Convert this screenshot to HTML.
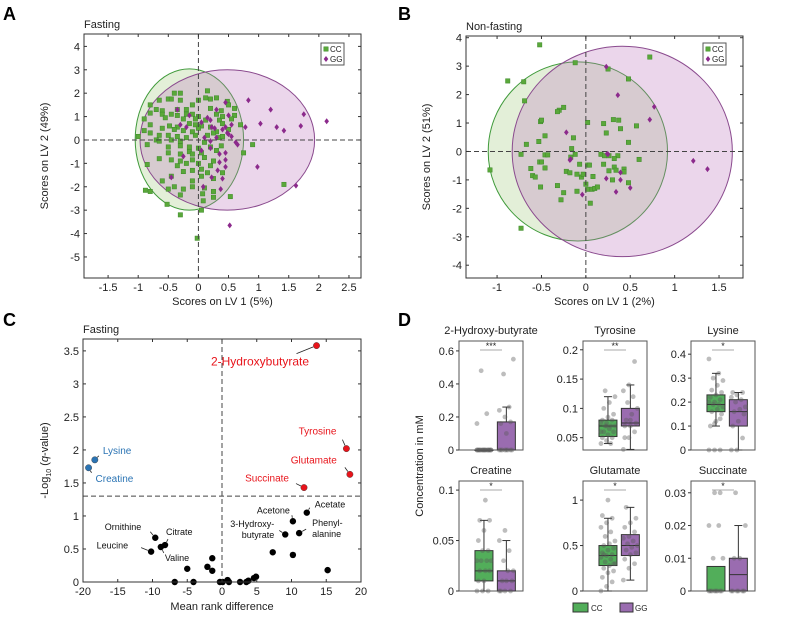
<!DOCTYPE html>
<html><head><meta charset="utf-8">
<style>
html,body{margin:0;padding:0;background:#fff;width:787px;height:622px;overflow:hidden}
svg{display:block;font-family:"Liberation Sans",Arial,sans-serif}
</style></head>
<body>
<svg id="fig" width="787" height="622" viewBox="0 0 787 622"></svg>
<script>
// ---------- DATA ----------
const aCCx=[-0.4,-0.3,0.15,-0.5,-0.45,-0.3,-0.65,0.0,0.12,0.2,0.3,0.48,-0.8,-0.1,0.5,-0.7,-0.6,-0.35,-0.2,0.2,0.38,0.6,-0.8,-0.6,-0.45,-0.35,-0.2,-0.1,0.0,0.3,0.6,-0.9,-0.55,-0.25,-0.05,0.12,0.35,0.55,-0.8,-0.48,-0.35,-0.15,-0.05,0.05,0.2,0.4,0.7,-0.9,-0.6,-0.4,-0.25,-0.1,0.0,0.3,0.5,-1.0,-0.8,-0.65,-0.5,-0.35,-0.2,-0.05,0.15,0.35,-0.7,-0.65,-0.45,-0.3,0.1,0.4,-0.85,-0.5,-0.3,-0.15,0.0,0.2,0.38,-0.5,-0.3,-0.15,0.05,0.3,0.75,0.9,-0.45,-0.3,-0.1,0.1,0.25,-0.65,-0.85,-0.35,-0.2,0.0,0.2,-0.25,-0.1,0.05,0.15,0.4,-0.6,-0.45,-0.1,0.05,0.25,-0.4,-0.25,-0.1,0.1,0.25,-0.88,-0.8,-0.5,-0.3,0.07,0.25,0.08,-0.52,0.05,0.53,-0.3,-0.02,1.42,0.4,0.25,-0.1];
const aCCy=[2.0,2.0,2.1,1.75,1.75,1.7,1.7,1.7,1.8,1.75,1.8,1.65,1.5,1.5,1.5,1.3,1.25,1.3,1.3,1.35,1.25,1.35,1.15,1.1,1.1,1.05,1.1,1.1,1.0,1.1,1.05,0.9,0.95,0.9,0.9,0.85,0.85,0.9,0.65,0.6,0.55,0.7,0.65,0.6,0.55,0.7,0.65,0.4,0.5,0.45,0.4,0.35,0.5,0.35,0.45,0.15,0.3,0.2,0.2,0.15,0.1,0.2,0.2,0.1,0.0,-0.05,0.0,-0.05,-0.1,0.15,-0.2,-0.3,-0.25,-0.3,-0.35,-0.3,-0.25,-0.55,-0.6,-0.5,-0.55,-0.45,-0.55,-0.2,-0.85,-0.9,-0.85,-0.75,-0.9,-0.8,-1.05,-1.1,-1.0,-1.0,-1.1,-1.35,-1.3,-1.25,-1.4,-1.4,-1.75,-1.55,-1.75,-1.55,-1.65,-2.0,-2.1,-2.0,-2.05,-2.2,-2.15,-2.2,-2.1,-2.35,-2.3,-2.45,-2.6,-2.75,-3.0,-2.42,-3.2,-4.2,-1.9,1.0,0.3,-0.6];
const aGGx=[-0.35,-0.15,-0.2,-0.3,0.05,0.15,0.2,0.3,0.45,0.5,0.55,0.45,0.4,0.22,0.27,0.48,0.5,0.55,0.1,0.2,0.3,0.62,0.65,0.2,0.45,0.35,0.05,0.35,0.45,-0.25,-0.45,0.32,0.45,0.22,0.4,0.08,0.37,0.83,1.2,1.03,0.78,1.3,1.42,1.75,1.7,2.13,0.98,1.62,0.52];
const aGGy=[1.3,1.05,0.55,0.65,0.75,0.95,0.85,1.3,1.6,1.05,0.65,0.55,0.45,0.55,0.5,0.3,0.25,0.15,0.1,-0.05,0.1,-0.1,-0.2,-0.35,-0.55,-0.6,-0.45,-0.95,-0.85,-0.7,-1.6,-1.3,-1.15,-1.6,-1.65,-2.0,-2.1,1.7,1.3,0.7,0.55,0.55,0.4,1.1,0.6,0.8,-1.15,-1.95,-3.65];
const bCCx=[-0.52,-0.12,0.25,0.72,-0.88,-0.7,0.48,-0.69,-0.25,-0.3,-0.32,-0.51,-0.5,0.02,0.2,0.31,0.37,0.57,0.39,0.23,-0.46,-0.14,-0.67,-0.53,0.48,-0.16,-0.73,-0.46,-0.43,-0.12,-0.17,0.17,0.21,0.26,0.36,0.32,-0.52,-0.5,-0.46,-0.62,-0.6,-0.57,-0.22,-0.18,-0.07,0.02,0.04,0.2,0.32,0.34,0.26,0.6,0.43,0.43,-0.1,-0.05,-0.03,0.08,0.3,0.48,-0.51,-0.32,0.0,0.02,0.07,0.1,0.13,-0.1,-0.25,-0.28,0.05,-1.08,-0.73];
const bCCy=[3.75,3.12,2.9,3.32,2.48,2.45,2.55,1.78,1.55,1.45,1.4,1.05,1.1,1.02,0.98,1.12,1.1,0.9,0.8,0.65,0.55,0.48,0.25,0.35,0.32,0.1,-0.1,-0.12,-0.12,-0.1,-0.2,-0.1,-0.15,-0.15,-0.15,-0.25,-0.37,-0.37,-0.58,-0.6,-0.85,-0.9,-0.7,-0.75,-0.45,-0.48,-0.48,-0.45,-0.55,-0.66,-0.68,-0.28,-0.62,-0.72,-0.8,-0.9,-0.8,-0.88,-1.0,-1.1,-1.25,-1.2,-1.15,-1.33,-1.33,-1.3,-1.25,-1.4,-1.45,-1.7,-1.82,-0.65,-2.7];
const bGGx=[0.23,0.36,0.77,0.72,-0.22,-0.17,-0.18,0.24,0.25,0.39,0.23,0.39,0.5,0.34,-0.04,1.21,1.37];
const bGGy=[2.98,1.98,1.57,1.12,0.67,-0.27,-0.3,-0.08,-0.1,-0.74,-0.95,-1.0,-1.28,-1.42,-1.52,-0.33,-0.62];
// ellipses [cx,cy,rx,ry]
const aEllCC=[-0.15,0.02,0.9,3.02], aEllGG=[0.48,0.0,1.45,3.0];
const bEllCC=[-0.09,0.0,1.01,3.15], bEllGG=[0.41,0.0,1.24,3.7];
// volcano
const cNames=["2-Hydroxybutyrate","Tyrosine","Glutamate","Succinate","Lysine","Creatine","Acetate","Acetone","Phenylalanine","3-Hydroxybutyrate","Ornithine","Citrate","Valine","Leucine","m15","m16","m17","m18","m19","m20","m21","m22","m23","m24","m25","m26","m27","m28","m29","m30","m31","m32"];
const cX=[13.6,17.9,18.4,11.8,-18.3,-19.2,12.2,10.2,11.1,9.1,-9.6,-8.2,-8.8,-10.2,7.3,10.2,15.2,-1.4,-2.1,-1.4,-5.0,-6.8,-4.1,-0.3,0.1,0.8,1.0,2.6,3.5,3.8,4.6,4.9];
const cY=[3.58,2.02,1.63,1.43,1.85,1.73,1.05,0.92,0.74,0.72,0.67,0.56,0.53,0.46,0.45,0.41,0.18,0.36,0.23,0.17,0.2,0,0,0,0,0.03,0,0,0,0.02,0.06,0.08];
const cGroup=["up","up","up","up","down","down","ns","ns","ns","ns","ns","ns","ns","ns","ns","ns","ns","ns","ns","ns","ns","ns","ns","ns","ns","ns","ns","ns","ns","ns","ns","ns"];
// box plots
const dTitles=["2-Hydroxy-butyrate","Tyrosine","Lysine","Creatine","Glutamate","Succinate"];
const dStars=["***","**","*","*","*","*"];
const dYmax=[0.66,0.215,0.455,0.109,1.21,0.0336];
const dYmin=[0,0.029,0,0,0,0];
const dTicks=[[0,0.2,0.4,0.6],[0.05,0.1,0.15,0.2],[0,0.1,0.2,0.3,0.4],[0,0.05,0.1],[0,0.5,1],[0,0.01,0.02,0.03]];
const dTickLbl=[["0","0.2","0.4","0.6"],["0.05","0.1","0.15","0.2"],["0","0.1","0.2","0.3","0.4"],["0","0.05","0.1"],["0","0.5","1"],["0","0.01","0.02","0.03"]];
const dStatsCC=[[0,0,0,0,0],[0.04,0.052,0.07,0.08,0.12],[0.10,0.16,0.19,0.23,0.32],[0,0.01,0.02,0.04,0.07],[0,0.28,0.39,0.50,0.80],[0,0,0,0.0075,0]];
const dStatsGG=[[0,0,0,0.17,0.26],[0.03,0.07,0.075,0.10,0.14],[0,0.10,0.16,0.21,0.24],[0,0,0.01,0.02,0.05],[0.12,0.39,0.50,0.62,0.92],[0,0,0.005,0.01,0.02]];
const dPtsCC=[[0,0,0,0,0,0,0,0,0,0,0,0,0,0,0,0,0,0,0,0,0.48,0.22,0.16],
[0.04,0.045,0.05,0.05,0.055,0.06,0.06,0.065,0.07,0.07,0.07,0.075,0.075,0.08,0.08,0.085,0.09,0.1,0.11,0.12,0.13,0.04,0.06,0.07],
[0,0,0,0.1,0.12,0.15,0.16,0.17,0.18,0.19,0.19,0.2,0.2,0.21,0.22,0.23,0.24,0.25,0.27,0.29,0.3,0.32,0.38,0.11,0.13],
[0,0,0,0.01,0.01,0.02,0.02,0.02,0.03,0.03,0.03,0.03,0.04,0.04,0.05,0.06,0.07,0.07,0.09],
[0,0.05,0.1,0.15,0.2,0.22,0.25,0.28,0.3,0.32,0.35,0.37,0.39,0.4,0.42,0.45,0.47,0.5,0.52,0.55,0.6,0.65,0.7,0.75,0.8,0.83,1.0,0.3,0.4],
[0,0,0,0,0,0,0,0,0.01,0.01,0.02,0.02,0.03,0.03]];
const dPtsGG=[[0,0,0,0,0,0,0,0,0.55,0.46,0.26,0.24,0.2,0.17,0.16,0.1],
[0.03,0.05,0.06,0.07,0.07,0.075,0.08,0.09,0.1,0.11,0.12,0.13,0.14,0.18,0.05,0.08],
[0,0,0.05,0.1,0.12,0.15,0.16,0.17,0.18,0.2,0.21,0.22,0.23,0.24,0.24],
[0,0,0,0,0.01,0.01,0.01,0.02,0.02,0.03,0.04,0.05,0.06],
[0.12,0.25,0.3,0.35,0.4,0.42,0.45,0.48,0.5,0.52,0.55,0.58,0.6,0.65,0.7,0.75,0.8,0.92],
[0,0,0,0,0,0,0.01,0.01,0.02,0.03]];

// ---------- HELPERS ----------
const NS="http://www.w3.org/2000/svg";
const svg=document.getElementById('fig');
function el(tag,attrs,parent,txt){const e=document.createElementNS(NS,tag);for(const k in attrs)e.setAttribute(k,attrs[k]);if(txt!==undefined)e.textContent=txt;(parent||svg).appendChild(e);return e;}
function grp(name){const g=el('g',{});


return g;}
function txt(g,x,y,s,name,opts){const t=el('text',Object.assign({x:x,y:y,'font-size':11,fill:'#222'},opts||{}),g,s);


return t;}
function lin(d0,d1,r0,r1){return v=>r0+(v-d0)/(d1-d0)*(r1-r0);}
function frame(g,L,T,W,H,xt,yt,sx,sy,xl,yl,name){
  const r=el('rect',{x:L,y:T,width:W,height:H,fill:'none',stroke:'#333','stroke-width':1},g);
  
  
  xt.forEach((v,i)=>{const x=sx(v);el('line',{x1:x,x2:x,y1:T+H,y2:T+H-3,stroke:'#333'},g);el('line',{x1:x,x2:x,y1:T,y2:T+3,stroke:'#333'},g);
    txt(g,x,T+H+13,xl[i],name+'-x-tick',{'text-anchor':'middle'});});
  yt.forEach((v,i)=>{const y=sy(v);el('line',{x1:L,x2:L+3,y1:y,y2:y,stroke:'#333'},g);el('line',{x1:L+W,x2:L+W-3,y1:y,y2:y,stroke:'#333'},g);
    txt(g,L-4,y+4,yl[i],name+'-y-tick',{'text-anchor':'end'});});
}
function sq(g,x,y,name){const r=el('rect',{x:x-2.2,y:y-2.2,width:4.4,height:4.4,fill:'#5aa83a',stroke:'#3d8a2a','stroke-width':0.5},g);

}
function dia(g,x,y,name){const p=el('path',{d:`M${x} ${y-3}L${x+2.3} ${y}L${x} ${y+3}L${x-2.3} ${y}Z`,fill:'#8c2a8c'},g);

}

// ---------- PANEL LETTERS ----------
[["A",3,20],["B",398,20],["C",3,326],["D",398,326]].forEach(a=>{txt(svg,a[1],a[2],a[0],'panel-label-'+a[0].toLowerCase(),{'font-size':18,'font-weight':'bold',fill:'#000'});});

// ---------- SCORES PLOTS ----------
function scores(name,L,T,W,H,xd,yd,xt,xl,yt,title,ylab,xlab,ellCC,ellGG,ccx,ccy,ggx,ggy,legX,legY){
  const g=grp(name);
  const sx=lin(xd[0],xd[1],L,L+W), sy=lin(yd[0],yd[1],T+H,T);
  const cp=el('clipPath',{id:name+'-clip'},g);el('rect',{x:L,y:T,width:W,height:H},cp);
  const eg=el('g',{'clip-path':`url(#${name}-clip)`},g);
  const kx=W/(xd[1]-xd[0]), ky=H/(yd[1]-yd[0]);
  const e1=el('ellipse',{cx:sx(ellCC[0]),cy:sy(ellCC[1]),rx:ellCC[2]*kx,ry:ellCC[3]*ky,fill:'rgba(150,195,110,0.27)',stroke:'#3f9a3a','stroke-width':1},eg);
  
  
  const e2=el('ellipse',{cx:sx(ellGG[0]),cy:sy(ellGG[1]),rx:ellGG[2]*kx,ry:ellGG[3]*ky,fill:'rgba(190,120,190,0.3)',stroke:'#8a4a8e','stroke-width':1},eg);
  
  
  el('line',{x1:L,x2:L+W,y1:sy(0),y2:sy(0),stroke:'#444','stroke-dasharray':'5,3'},g);
  el('line',{x1:sx(0),x2:sx(0),y1:T,y2:T+H,stroke:'#444','stroke-dasharray':'5,3'},g);
  ccx.forEach((v,i)=>sq(eg,sx(v),sy(ccy[i]),'cc-point'));
  ggx.forEach((v,i)=>dia(eg,sx(v),sy(ggy[i]),'gg-point'));
  frame(g,L,T,W,H,xt,yt,sx,sy,xl,yt.map(String),name);
  txt(g,L,T-6,title,name+'-title');
  txt(g,L+W/2,T+H+27,xlab,name+'-x-title',{'text-anchor':'middle'});
  txt(g,0,0,ylab,name+'-y-title',{'text-anchor':'middle',transform:`translate(${L-36},${T+H/2}) rotate(-90)`});
  const lg=grp(name+'-legend');g.appendChild(lg);
  el('rect',{x:legX,y:legY,width:23,height:22,fill:'#fff',stroke:'#555','stroke-width':1},lg);
  sq(lg,legX+5,legY+6,'legend-cc-marker');dia(lg,legX+5,legY+16,'legend-gg-marker');
  txt(lg,legX+9,legY+9,'CC','legend-cc-label',{'font-size':8});
  txt(lg,legX+9,legY+19,'GG','legend-gg-label',{'font-size':8});
}
scores('scores-fasting',84,34,277,244,[-1.9,2.7],[-5.9,4.53],[-1.5,-1,-0.5,0,0.5,1,1.5,2,2.5],["-1.5","-1","-0.5","0","0.5","1","1.5","2","2.5"],[-5,-4,-3,-2,-1,0,1,2,3,4],'Fasting','Scores on LV 2 (49%)','Scores on LV 1 (5%)',aEllCC,aEllGG,aCCx,aCCy,aGGx,aGGy,321,43);
scores('scores-nonfasting',466,36,277,242,[-1.35,1.77],[-4.45,4.06],[-1,-0.5,0,0.5,1,1.5],["-1","-0.5","0","0.5","1","1.5"],[-4,-3,-2,-1,0,1,2,3,4],'Non-fasting','Scores on LV 2 (51%)','Scores on LV 1 (2%)',bEllCC,bEllGG,bCCx,bCCy,bGGx,bGGy,703,43);

// ---------- VOLCANO ----------
(function(){
  const g=grp('volcano-plot');
  const L=83,T=339,W=278,H=243;
  const sx=lin(-20,20,L,L+W), sy=lin(0,3.68,T+H,T);
  el('line',{x1:L,x2:L+W,y1:sy(1.3),y2:sy(1.3),stroke:'#444','stroke-dasharray':'5,3'},g);
  el('line',{x1:sx(0),x2:sx(0),y1:T,y2:T+H,stroke:'#444','stroke-dasharray':'5,3'},g);
  const col={up:'#e8141b',down:'#2b74b4',ns:'#000'};
  cX.forEach((v,i)=>{const c=el('circle',{cx:sx(v),cy:sy(cY[i]),r:3.2,fill:col[cGroup[i]],stroke:cGroup[i]=='ns'?'none':'#333','stroke-width':0.4},g);
    
    });
  // [index, text dx, baseline dy, anchor, size, color, line end dx, line end dy]
  const labs=[[0,-7.5,20,'end',12,'#e8141b',-20,8],[1,-10,-14,'end',10,'#e8141b',-4,-9],[2,-13,-11,'end',10,'#e8141b',-5,-7],[3,-15,-6,'end',10,'#e8141b',-8,-4],
    [4,8,-6,'start',10,'#2b74b4',4,-4],[5,7,14,'start',10,'#2b74b4',3,5],
    [6,8,-5,'start',9,'#111',3,-5],[7,-3,-8,'end',9,'#111',-1,-6],[8,13,-7,'start',9,'#111',7,-4],[9,-11,-7.5,'end',9,'#111',-6,-4],
    [10,-14,-8,'end',9,'#111',-5,-6],[11,1,-10,'start',9,'#111',3,-6],[12,4,14,'start',9,'#111',3,6],[13,-23,-3,'end',9,'#111',-10,-4]];
  const lnames=["2-Hydroxybutyrate","Tyrosine","Glutamate","Succinate","Lysine","Creatine","Acetate","Acetone","Phenyl-","3-Hydroxy-","Ornithine","Citrate","Valine","Leucine"];
  labs.forEach(l=>{const i=l[0];const x=sx(cX[i]),y=sy(cY[i]);
    const tx=x+l[1], ty=y+l[2];
    const len=Math.hypot(l[6],l[7])||1;
    el('line',{x1:x+l[6]/len*3.5,y1:y+l[7]/len*3.5,x2:x+l[6],y2:y+l[7],stroke:'#222','stroke-width':0.8},g);
    txt(g,tx,ty,lnames[i],'label-'+cNames[i].toLowerCase(),{'font-size':l[4],fill:l[5],'text-anchor':l[3]});
    if(i==8)txt(g,tx,ty+11,'alanine','label-phenylalanine-2',{'font-size':9,fill:'#111'});
    if(i==9)txt(g,tx,ty+11,'butyrate','label-3-hydroxybutyrate-2',{'font-size':9,fill:'#111','text-anchor':'end'});
  });
  frame(g,L,T,W,H,[-20,-15,-10,-5,0,5,10,15,20],[0,0.5,1,1.5,2,2.5,3,3.5],sx,sy,["-20","-15","-10","-5","0","5","10","15","20"],["0","0.5","1","1.5","2","2.5","3","3.5"],'volcano');
  txt(g,L,T-6,'Fasting','volcano-title');
  txt(g,L+W/2,T+H+28,'Mean rank difference','volcano-x-title',{'text-anchor':'middle'});
  const yt=el('text',{transform:`translate(${L-35},${T+H/2}) rotate(-90)`,'text-anchor':'middle','font-size':11,fill:'#222'},g);
  
  
  el('tspan',{},yt,'-Log');el('tspan',{'font-size':7,dy:3},yt,'10');el('tspan',{dy:-3},yt,' (');el('tspan',{'font-style':'italic'},yt,'q');el('tspan',{},yt,'-value)');
})();

// ---------- BOX PLOTS ----------
(function(){
  const lefts=[459,583,691], tops=[341,481], W=64, H=[109,110];
  const g=grp('boxplots');
  for(let k=0;k<6;k++){
    const L=lefts[k%3], T=tops[Math.floor(k/3)], h=H[Math.floor(k/3)];
    const sg=grp('boxplot-'+dTitles[k].toLowerCase());g.appendChild(sg);
    const sy=lin(dYmin[k],dYmax[k],T+h,T);
    el('rect',{x:L,y:T,width:W,height:h,fill:'#fff',stroke:'#555','stroke-width':1},sg);
    dTicks[k].forEach((v,i)=>{const y=sy(v);el('line',{x1:L-3,x2:L,y1:y,y2:y,stroke:'#333'},sg);
      txt(sg,L-5,y+4,dTickLbl[k][i],'y-tick',{'text-anchor':'end','font-size':11});});
    txt(sg,L+W/2,T-7,dTitles[k],'boxplot-title',{'text-anchor':'middle','font-size':11});
    el('line',{x1:L+W/2-11,x2:L+W/2+11,y1:T+9,y2:T+9,stroke:'#aaa'},sg);
    txt(sg,L+W/2,T+8,dStars[k],'significance-stars',{'text-anchor':'middle','font-size':9});
    [[dStatsCC[k],dPtsCC[k],L+W*0.39,'#52ae5a','cc'],[dStatsGG[k],dPtsGG[k],L+W*0.74,'#9a6cb0','gg']].forEach(b=>{
      const s=b[0],cx=b[2],bw=18;
      el('line',{x1:cx,x2:cx,y1:sy(s[0]),y2:sy(s[4]),stroke:'#333'},sg);
      el('line',{x1:cx-4,x2:cx+4,y1:sy(s[4]),y2:sy(s[4]),stroke:'#333'},sg);
      el('line',{x1:cx-4,x2:cx+4,y1:sy(s[0]),y2:sy(s[0]),stroke:'#333'},sg);
      const r=el('rect',{x:cx-bw/2,y:sy(s[3]),width:bw,height:Math.max(sy(s[1])-sy(s[3]),0.5),fill:b[3],stroke:'#333','stroke-width':1},sg);
      
      
      el('line',{x1:cx-bw/2,x2:cx+bw/2,y1:sy(s[2]),y2:sy(s[2]),stroke:'#333','stroke-width':1},sg);
      b[1].forEach((v,i)=>{const j=(((i*37)%11)-5)/5*7;
        const c=el('circle',{cx:cx+j,cy:sy(v),r:2.4,fill:'rgba(90,90,90,0.4)'},sg);
        
        });
    });
  }
  txt(g,0,0,'Concentration in mM','boxplot-y-title',{'text-anchor':'middle',transform:'translate(423,466) rotate(-90)'});
  const lg=grp('boxplot-legend');g.appendChild(lg);
  el('rect',{x:573,y:603,width:15,height:9,fill:'#52ae5a',stroke:'#333'},lg);
  txt(lg,591,611,'CC','legend-cc',{'font-size':8});
  el('rect',{x:620,y:603,width:13,height:9,fill:'#9a6cb0',stroke:'#333'},lg);
  txt(lg,635,611,'GG','legend-gg',{'font-size':8});
})();
</script>
</body></html>
